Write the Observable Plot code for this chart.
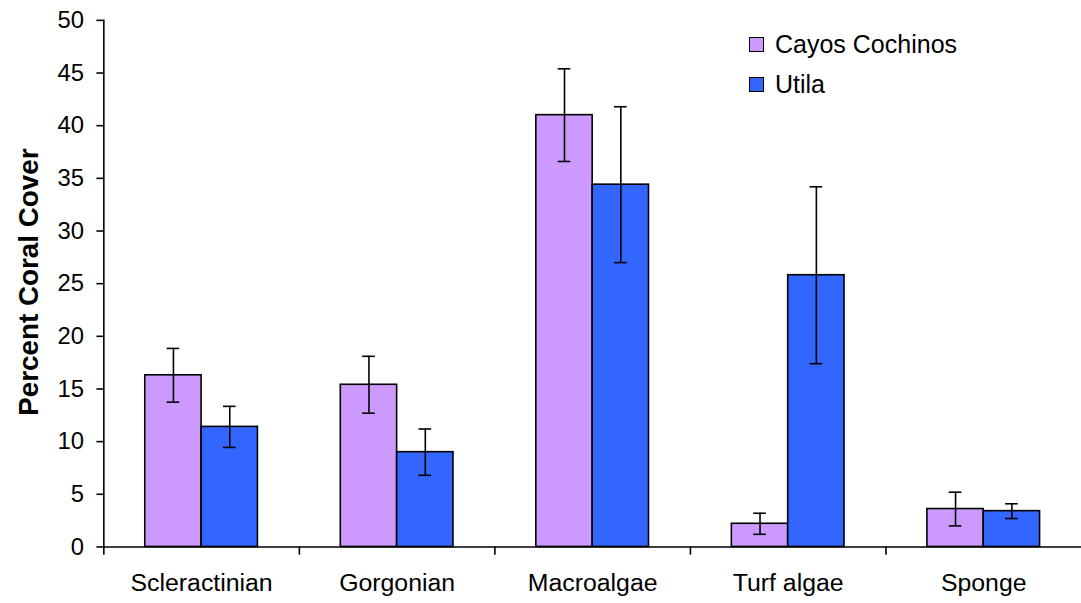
<!DOCTYPE html>
<html>
<head>
<meta charset="utf-8">
<script src="https://cdn.jsdelivr.net/npm/d3@7"></script>
<script src="https://cdn.jsdelivr.net/npm/@observablehq/plot@0.6"></script>
<style>
  html, body { margin: 0; padding: 0; background: #fff; overflow: hidden; }
  #wrap { position: relative; width: 1081px; height: 603px; overflow: hidden; font-family: "Liberation Sans", Arial, sans-serif; }
  #wrap svg { display: block; }
  .legend { position: absolute; left: 749px; top: 24px; font-size: 25px; color: #000; line-height: 40px; }
  .legend .row { display: flex; align-items: center; height: 40px; }
  .legend .sw { width: 13px; height: 13px; border: 1.6px solid #000; margin-right: 11px; box-sizing: content-box; }
</style>
</head>
<body>
<div id="wrap"></div>
<script>
const categories = ["Scleractinian", "Gorgonian", "Macroalgae", "Turf algae", "Sponge"];
const seriesNames = ["Cayos Cochinos", "Utila"];
const cayosMean = [16.3, 15.4, 41.0, 2.2, 3.6];
const cayosErr  = [2.55, 2.7, 4.4, 1.0, 1.6];
const utilaMean = [11.4, 9.0, 34.4, 25.8, 3.4];
const utilaErr  = [1.95, 2.2, 7.4, 8.4, 0.7];
const seriesColors = ["#CC99FF", "#3366FF"];
const yTicks = [0, 5, 10, 15, 20, 25, 30, 35, 40, 45, 50];
const yTitle = "Percent Coral Cover";

const rows = [];
categories.forEach((c, i) => {
  rows.push({category: c, series: seriesNames[0], mean: cayosMean[i], err: cayosErr[i]});
  rows.push({category: c, series: seriesNames[1], mean: utilaMean[i], err: utilaErr[i]});
});

const sw = 1.6;
const chart = Plot.plot({
  width: 1088,
  height: 603,
  marginLeft: 104,
  marginRight: 0,
  marginTop: 20,
  marginBottom: 53,
  style: {fontFamily: "'Liberation Sans', Arial, sans-serif", color: "#000", background: "#fff", overflow: "visible"},
  fx: {domain: categories, padding: 0, round: false, label: null},
  x: {domain: seriesNames, paddingInner: 0, paddingOuter: 0.7355, round: false, axis: null},
  y: {domain: [0, 50], label: null},
  color: {domain: seriesNames, range: seriesColors},
  marks: [
    Plot.barY(rows, {fx: "category", x: "series", y: "mean", fill: "series", stroke: "#000", strokeWidth: sw}),
    Plot.ruleX(rows, {fx: "category", x: "series", y1: d => d.mean - d.err, y2: d => d.mean + d.err, stroke: "#000", strokeWidth: sw}),
    Plot.tickY(rows, {fx: "category", x: "series", y: d => d.mean - d.err, stroke: "#000", strokeWidth: sw, insetLeft: 22, insetRight: 22}),
    Plot.tickY(rows, {fx: "category", x: "series", y: d => d.mean + d.err, stroke: "#000", strokeWidth: sw, insetLeft: 22, insetRight: 22}),
    Plot.ruleY([0], {stroke: "#000", strokeWidth: sw}),
    Plot.frame({anchor: "left", insetTop: 530, insetBottom: -7, stroke: "#000", strokeWidth: sw}),
    Plot.frame({anchor: "left", facetAnchor: "left", stroke: "#000", strokeWidth: sw}),
    Plot.axisY({ticks: yTicks, tickSize: 7, tickPadding: 13, fontSize: 24, label: null, strokeWidth: sw}),
    Plot.axisFx({anchor: "bottom", tickSize: 0, tickPadding: 27, fontSize: 25, label: null})
  ]
});

const wrap = document.getElementById("wrap");
wrap.appendChild(chart);

d3.select(chart).append("text")
  .attr("transform", "translate(29,284) rotate(-90)")
  .attr("text-anchor", "middle")
  .attr("dominant-baseline", "central")
  .attr("font-size", 28)
  .attr("font-weight", "bold")
  .attr("fill", "#000")
  .text(yTitle);

const legend = document.createElement("div");
legend.className = "legend";
seriesNames.forEach((name, i) => {
  const row = document.createElement("div");
  row.className = "row";
  const s = document.createElement("span");
  s.className = "sw";
  s.style.background = seriesColors[i];
  const t = document.createElement("span");
  t.textContent = name;
  row.appendChild(s);
  row.appendChild(t);
  legend.appendChild(row);
});
wrap.appendChild(legend);
</script>
</body>
</html>
